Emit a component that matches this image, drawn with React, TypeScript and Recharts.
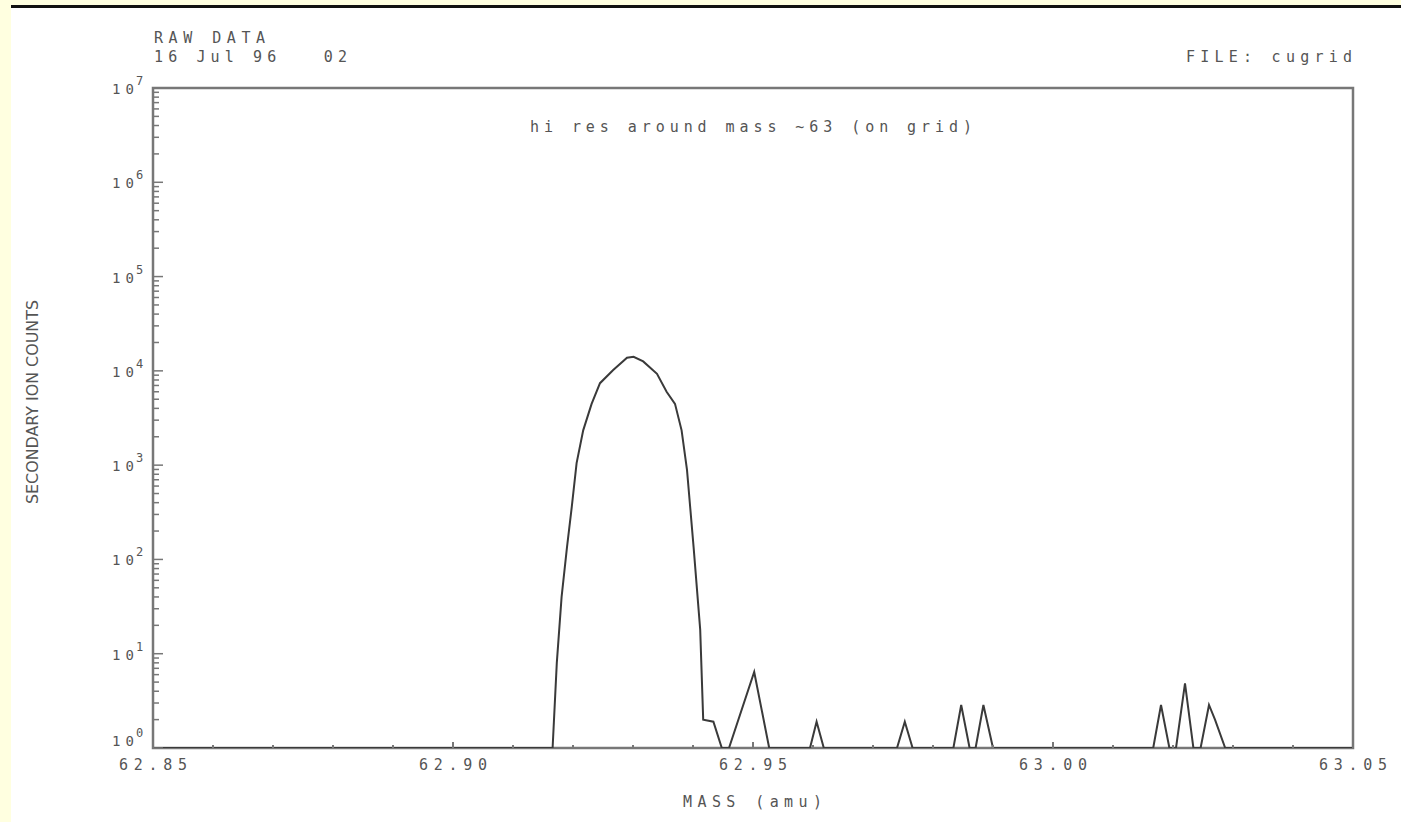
import React from "react";
import { LineChart, Line, XAxis, YAxis, ReferenceArea } from "recharts";

// ---- data ----
const massValues = [
  62.85, 62.9166, 62.9173, 62.9181, 62.919, 62.9198, 62.9206, 62.9217, 62.9231,
  62.9245, 62.9267, 62.929, 62.9301, 62.9317, 62.934, 62.9356, 62.937, 62.9381,
  62.939, 62.9401, 62.9412, 62.9417, 62.9434, 62.9448, 62.946, 62.9502, 62.9527,
  62.9595, 62.9606, 62.9618, 62.974, 62.9753, 62.9766, 62.9834, 62.9847, 62.9861,
  62.9871, 62.9884, 62.99, 63.0167, 63.018, 63.0194, 63.0205, 63.022, 63.0234,
  63.0246, 63.026, 63.027, 63.0287, 63.05,
];
const countValues = [
  1, 1, 8, 40, 135, 363, 1050, 2340, 4470,
  7400, 10200, 13800, 14100, 12600, 9300, 6000, 4470, 2340,
  890, 135, 18, 2, 1.9, 1, 1, 6.4, 1,
  1, 1.9, 1, 1, 1.9, 1, 1, 2.86, 1,
  1, 2.86, 1, 1, 2.86, 1, 1, 4.85, 1,
  1, 2.86, 2, 1, 1,
];

const xTickValues = [
  62.85, 62.86, 62.87, 62.88, 62.89, 62.9, 62.91, 62.92, 62.93, 62.94, 62.95,
  62.96, 62.97, 62.98, 62.99, 63.0, 63.01, 63.02, 63.03, 63.04, 63.05,
];
const xMajorValues = [62.85, 62.9, 62.95, 63.0, 63.05];
const xMajorLabels = ["62.85", "62.90", "62.95", "63.00", "63.05"];

const yDecades = [1, 10, 100, 1000, 10000, 100000, 1000000, 10000000];
const yExponents = ["0", "1", "2", "3", "4", "5", "6", "7"];
const yMinorMultipliers = [2, 3, 4, 5, 6, 7, 8, 9];

const titleText = "hi res around mass ~63 (on grid)";
const headerLine1 = "RAW DATA";
const headerLine2 = "16 Jul 96   02";
const fileText = "FILE: cugrid";
const xLabelText = "MASS (amu)";
const yLabelText = "SECONDARY ION COUNTS";

const data = massValues.map((m, i) => ({ mass: m, counts: countValues[i] }));
const yTickValues: number[] = [];
yDecades.forEach((d, i) => {
  yTickValues.push(d);
  if (i < yDecades.length - 1) yMinorMultipliers.forEach((k) => yTickValues.push(d * k));
});

const FONT = "'DejaVu Sans Mono', monospace";
const TEXT_COLOR = "#555";
const AXIS_COLOR = "#777";
const PRE = { whiteSpace: "pre" as const };

function XTick(props: any) {
  const { x, y, payload } = props;
  const v = payload.value;
  const idx = xMajorValues.findIndex((m) => Math.abs(m - v) < 1e-6);
  return (
    <g>
      <line x1={x} x2={x} y1={y} y2={y - (idx >= 0 ? 6 : 3)} stroke={AXIS_COLOR} strokeWidth={2} />
      {idx >= 0 && (
        <text
          x={x}
          y={y + 22}
          textAnchor="middle"
          fontFamily={FONT}
          fontSize={15}
          fill={TEXT_COLOR}
          textLength={68}
          lengthAdjust="spacing"
        >
          {xMajorLabels[idx]}
        </text>
      )}
    </g>
  );
}

function YTick(props: any) {
  const { x, y, payload } = props;
  const v = payload.value;
  const idx = yDecades.findIndex((d) => Math.abs(d - v) / d < 1e-6);
  const base = idx === 0 ? y - 2 : y + 6;
  return (
    <g>
      <line x1={x} x2={x + (idx >= 0 ? 10 : 6)} y1={y} y2={y} stroke={AXIS_COLOR} strokeWidth={1.5} />
      {idx >= 0 && (
        <g>
          <text
            x={x - 19}
            y={base}
            textAnchor="end"
            fontFamily={FONT}
            fontSize={14}
            fill={TEXT_COLOR}
            textLength={22}
            lengthAdjust="spacing"
          >
            10
          </text>
          <text x={x - 17} y={base - 9} textAnchor="start" fontFamily={FONT} fontSize={12} fill={TEXT_COLOR}>
            {yExponents[idx]}
          </text>
        </g>
      )}
    </g>
  );
}

export default function App() {
  return (
    <div
      style={{
        position: "absolute",
        left: 0,
        top: 0,
        width: 1401,
        height: 822,
        background: "#FFFFE0",
        overflow: "hidden",
      }}
    >
      <div
        style={{
          position: "absolute",
          left: 11,
          top: 5,
          width: 1390,
          height: 817,
          background: "#ffffff",
          borderTop: "3px solid #111",
          boxSizing: "border-box",
        }}
      />
      <div style={{ position: "absolute", left: 0, top: 0 }}>
        <LineChart
          width={1401}
          height={822}
          data={data}
          margin={{ top: 88, right: 48, bottom: 44, left: 93 }}
        >
          <XAxis
            dataKey="mass"
            type="number"
            domain={[62.85, 63.05]}
            ticks={xTickValues}
            interval={0}
            tickSize={0}
            tickMargin={0}
            tickLine={false}
            axisLine={false}
            tick={<XTick />}
            height={30}
            allowDataOverflow
          />
          <YAxis
            type="number"
            scale="log"
            domain={[1, 10000000]}
            ticks={yTickValues}
            interval={0}
            tickSize={0}
            tickMargin={0}
            tickLine={false}
            axisLine={false}
            tick={<YTick />}
            width={60}
            allowDataOverflow
          />
          <ReferenceArea
            x1={62.85}
            x2={63.05}
            y1={1}
            y2={10000000}
            fill="none"
            fillOpacity={0}
            stroke={AXIS_COLOR}
            strokeWidth={2.5}
          />
          <Line
            type="linear"
            dataKey="counts"
            stroke="#3a3a3a"
            strokeWidth={2}
            dot={false}
            isAnimationActive={false}
          />
        </LineChart>
      </div>
      <svg
        width={1401}
        height={822}
        style={{ position: "absolute", left: 0, top: 0, pointerEvents: "none" }}
      >
        <text x={154} y={43} fontFamily={FONT} fontSize={15} fill={TEXT_COLOR} textLength={111} lengthAdjust="spacing" style={PRE}>
          {headerLine1}
        </text>
        <text x={154} y={62} fontFamily={FONT} fontSize={15} fill={TEXT_COLOR} textLength={193} lengthAdjust="spacing" style={PRE}>
          {headerLine2}
        </text>
        <text x={1186} y={62} fontFamily={FONT} fontSize={15} fill={TEXT_COLOR} textLength={166} lengthAdjust="spacing" style={PRE}>
          {fileText}
        </text>
        <text x={530} y={132} fontFamily={FONT} fontSize={15} fill={TEXT_COLOR} textLength={442} lengthAdjust="spacing" style={PRE}>
          {titleText}
        </text>
        <text x={683} y={807} fontFamily={FONT} fontSize={15} fill={TEXT_COLOR} textLength={139} lengthAdjust="spacing" style={PRE}>
          {xLabelText}
        </text>
        <text
          x={0}
          y={0}
          transform="translate(38, 402) rotate(-90)"
          textAnchor="middle"
          fontFamily="'DejaVu Sans Condensed', 'DejaVu Sans', sans-serif"
          fontSize={15}
          fill={TEXT_COLOR}
          textLength={204}
          lengthAdjust="spacingAndGlyphs"
        >
          {yLabelText}
        </text>
      </svg>
    </div>
  );
}
